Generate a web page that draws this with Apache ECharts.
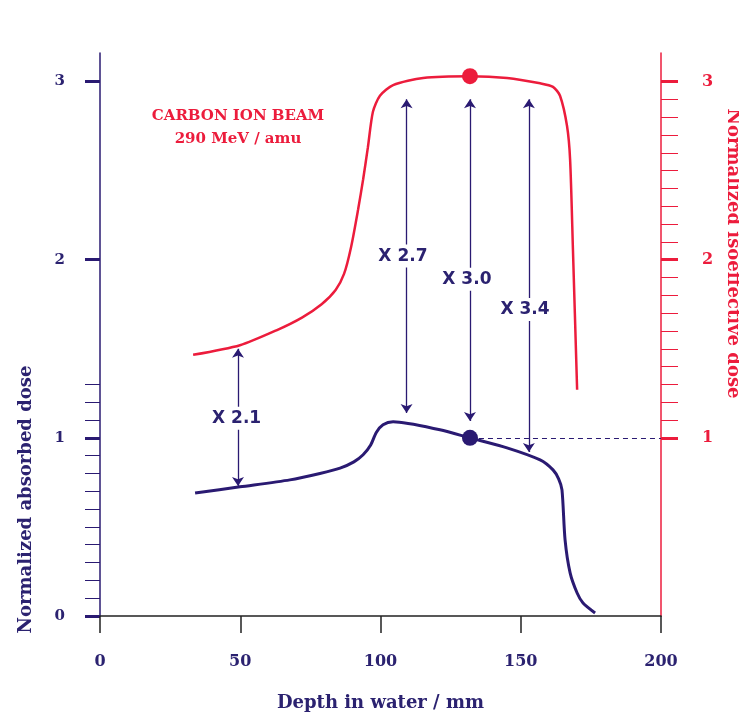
<!DOCTYPE html>
<html>
<head>
<meta charset="utf-8">
<script src="https://cdn.jsdelivr.net/npm/echarts@6/dist/echarts.min.js"></script>
<style>
  html, body { margin: 0; padding: 0; background: #fff; }
  #main { width: 739px; height: 718px; }
</style>
</head>
<body>
<div id="main"></div>
<script>
// absorbed dose (left axis)
var absDepth = [33.9, 49.9, 67.7, 78.4, 85.6, 90.5, 93.8, 96.5, 98.5, 100.9, 104.5, 121.2, 131.9, 145.1, 156.9, 161.5, 163.5, 164.7, 165.8, 167.6, 170.1, 172.2, 176.5];
var absDose  = [0.69, 0.725, 0.764, 0.80, 0.83, 0.865, 0.905, 0.96, 1.03, 1.073, 1.09, 1.045, 1.0, 0.944, 0.876, 0.82, 0.77, 0.708, 0.427, 0.242, 0.129, 0.073, 0.017];
// isoeffective dose (right axis)
var isoDepth = [33.2, 49.9, 63.1, 72.0, 79.0, 84.0, 87.0, 89.5, 92.0, 93.8, 95.5, 97.3, 99.8, 104.5, 115.2, 131.9, 145.1, 156.9, 161.5, 164.0, 166.5, 167.6, 168.6, 170.1];
var isoDose  = [1.466, 1.52, 1.605, 1.675, 1.75, 1.83, 1.92, 2.07, 2.28, 2.45, 2.63, 2.83, 2.92, 2.98, 3.02, 3.03, 3.02, 2.99, 2.97, 2.92, 2.75, 2.56, 2.06, 1.27];
// reference points
var refDepth = 131.9;
var refAbs = 1.0;
var refIso = 3.03;
// ratio arrows
var arrowX = [49.2, 109.3, 131.9, 152.9];
var arrowTop = [1.50, 2.90, 2.90, 2.90];
var arrowBottom = [0.73, 1.14, 1.095, 0.92];
var ratioText = ['X 2.1', 'X 2.7', 'X 3.0', 'X 3.4'];
var ratioX = [48.7, 108, 130.8, 151.5];
var ratioY = [1.11, 2.02, 1.89, 1.72];
// ticks
var xTicks = [0, 50, 100, 150, 200];
var leftMajor = [0, 1, 2, 3];
var leftMinor = [0.1, 0.2, 0.3, 0.4, 0.5, 0.6, 0.7, 0.8, 0.9, 1.1, 1.2, 1.3];
var rightMajor = [1, 2, 3];
var rightMinor = [1.1, 1.2, 1.3, 1.4, 1.5, 1.6, 1.7, 1.8, 1.9, 2.1, 2.2, 2.3, 2.4, 2.5, 2.6, 2.7, 2.8, 2.9];

var navy = '#2a1a72';
var navyText = '#2b2270';
var red = '#ec1c3c';
var serif = 'DejaVu Serif';
var yMax = 3.16;

function zip(xs, ys) {
  return xs.map(function (x, i) { return [x, ys[i]]; });
}

var chart = echarts.init(document.getElementById('main'));
var option = {
  backgroundColor: '#fff',
  animation: false,
  grid: { left: 100, right: 78, top: 53, bottom: 102, outerBoundsMode: 'none', containLabel: false },
  graphic: [
    {
      type: 'text', x: 238, y: 105,
      style: {
        text: 'CARBON ION BEAM\n290 MeV / amu', fill: red,
        font: 'bold 15px "DejaVu Serif"', align: 'center', lineHeight: 23
      }
    }
  ],
  xAxis: {
    type: 'value', min: 0, max: 200, interval: 50,
    splitLine: { show: false },
    axisLine: { lineStyle: { color: '#222', width: 1.5 } },
    axisTick: { length: 17, lineStyle: { color: '#222', width: 1.5 }, customValues: xTicks },
    axisLabel: { customValues: xTicks, margin: 38, color: navyText, fontFamily: serif, fontWeight: 'bold', fontSize: 16 },
    name: 'Depth in water / mm', nameLocation: 'middle', nameGap: 78,
    nameTextStyle: { color: navyText, fontFamily: serif, fontWeight: 'bold', fontSize: 18 }
  },
  yAxis: [
    {
      type: 'value', min: 0, max: yMax, position: 'left',
      splitLine: { show: false },
      axisLine: { show: true, lineStyle: { color: navy, width: 1.5 } },
      axisTick: { show: true, length: 15, customValues: leftMajor, lineStyle: { color: navy, width: 3 } },
      axisLabel: { customValues: leftMajor, margin: 35, color: navyText, fontFamily: serif, fontWeight: 'bold', fontSize: 15 },
      name: 'Normalized absorbed dose', nameLocation: 'middle', nameGap: 65,
      nameTextStyle: { color: navyText, fontFamily: serif, fontWeight: 'bold', fontSize: 18, padding: [0, 330, 0, 0] }
    },
    {
      type: 'value', min: 0, max: yMax, position: 'left',
      splitLine: { show: false },
      axisLine: { show: false },
      axisTick: { show: true, length: 15, customValues: leftMinor, lineStyle: { color: navy, width: 1 } },
      axisLabel: { show: false }
    },
    {
      type: 'value', min: 0, max: yMax, position: 'right',
      splitLine: { show: false },
      axisLine: { show: true, lineStyle: { color: red, width: 1.5 } },
      axisTick: { show: true, length: 17, customValues: rightMajor, lineStyle: { color: red, width: 3 } },
      axisLabel: { customValues: rightMajor, margin: 41, color: red, fontFamily: serif, fontWeight: 'bold', fontSize: 16 },
      name: 'Normalized isoeffective dose', nameLocation: 'middle', nameGap: 50, nameRotate: -90,
      nameTextStyle: { color: red, fontFamily: serif, fontWeight: 'bold', fontSize: 18, padding: [0, 162, 0, 0] }
    },
    {
      type: 'value', min: 0, max: yMax, position: 'right',
      splitLine: { show: false },
      axisLine: { show: false },
      axisTick: { show: true, length: 17, customValues: rightMinor, lineStyle: { color: red, width: 1 } },
      axisLabel: { show: false }
    }
  ],
  series: [
    {
      name: 'absorbed', type: 'line', yAxisIndex: 0, smooth: 0.25,
      showSymbol: false, data: zip(absDepth, absDose),
      lineStyle: { color: navy, width: 3 }, z: 3
    },
    {
      name: 'isoeffective', type: 'line', yAxisIndex: 2, smooth: 0.25,
      showSymbol: false, data: zip(isoDepth, isoDose),
      lineStyle: { color: red, width: 2.5 }, z: 3
    },
    {
      name: 'reference', type: 'lines', coordinateSystem: 'cartesian2d', yAxisIndex: 0,
      data: [{ coords: [[refDepth, refAbs], [200, refAbs]] }],
      lineStyle: { color: navy, width: 1, type: [5, 4], opacity: 1 }, z: 2
    },
    {
      name: 'ratios', type: 'lines', coordinateSystem: 'cartesian2d', yAxisIndex: 0,
      symbol: ['arrow', 'arrow'], symbolSize: 9,
      data: arrowX.map(function (x, i) { return { coords: [[x, arrowTop[i]], [x, arrowBottom[i]]] }; }),
      lineStyle: { color: navy, width: 1.3, opacity: 1 }, z: 4
    },
    {
      name: 'ratioLabels', type: 'scatter', yAxisIndex: 0, symbolSize: 0,
      itemStyle: { opacity: 1 },
      data: ratioText.map(function (t, i) { return { value: [ratioX[i], ratioY[i]], name: t }; }),
      label: {
        show: true, position: 'inside', formatter: '{b}', color: navyText,
        fontFamily: 'DejaVu Sans', fontWeight: 'bold', fontSize: 17,
        backgroundColor: '#fff', padding: [3, 4]
      },
      z: 5
    },
    {
      name: 'dots', type: 'scatter', yAxisIndex: 0, symbolSize: 16,
      data: [
        { value: [refDepth, refIso], itemStyle: { color: red, opacity: 1 } },
        { value: [refDepth, refAbs], itemStyle: { color: navy, opacity: 1 } }
      ],
      z: 6
    }
  ]
};
chart.setOption(option);
</script>
</body>
</html>
